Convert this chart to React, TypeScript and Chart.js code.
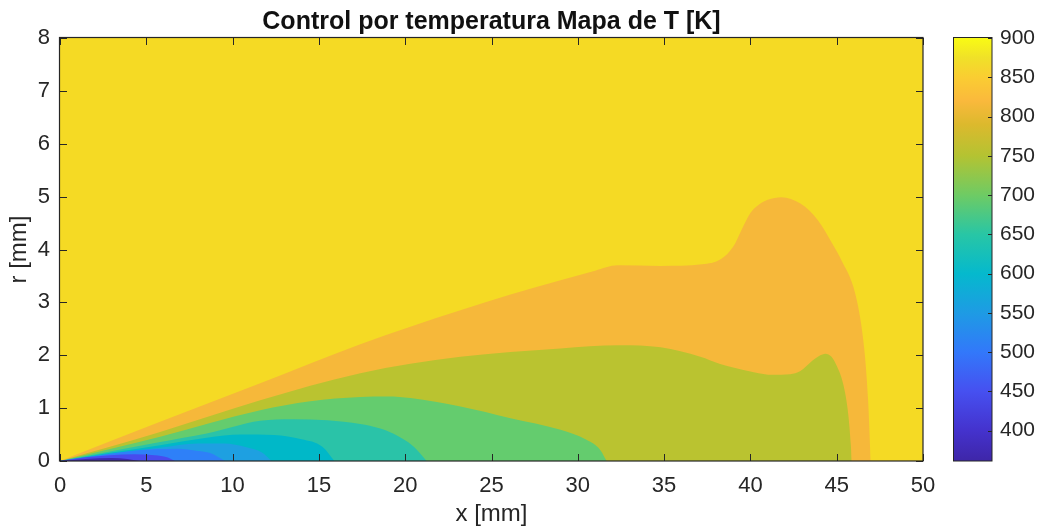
import React, { useEffect, useRef } from 'react';
import { Chart, registerables } from 'chart.js';

Chart.register(...registerables);

const FONT = "'Liberation Sans', Arial, Helvetica, sans-serif";
const AXIS_COLOR = '#262626';

const TITLE = 'Control por temperatura Mapa de T [K]';
const X_LABEL = 'x [mm]';
const Y_LABEL = 'r [mm]';

const xTicks = [0, 5, 10, 15, 20, 25, 30, 35, 40, 45, 50];
const rTicks = [0, 1, 2, 3, 4, 5, 6, 7, 8];
const cbTicks = [400, 450, 500, 550, 600, 650, 700, 750, 800, 850, 900];
const CB_MIN = 361.4;
const CB_MAX = 900;

// Contour boundaries (upper edge r(x) of each filled level, x in mm, r in mm)
const xTop = [0, 50];
const rTop = [8, 8];

const x800 = [0, 5.8, 11.6, 17.4, 20.3, 23.2, 26.1, 29.0, 31.0, 32.3, 34.8, 37.2, 38.3, 39.0, 39.5, 40.0, 40.5, 41.0, 41.8, 42.9, 43.9, 44.8, 45.3, 45.96, 46.35, 46.64, 46.82, 46.97];
const r800 = [0, 0.74, 1.47, 2.21, 2.54, 2.85, 3.15, 3.42, 3.60, 3.70, 3.69, 3.72, 3.82, 4.05, 4.38, 4.69, 4.85, 4.94, 4.99, 4.87, 4.56, 4.08, 3.78, 3.30, 2.73, 1.97, 1.15, 0];

const x750 = [0, 5.8, 11.6, 17.4, 23.2, 29.0, 32.4, 34.8, 37.1, 38.2, 39.0, 40.2, 41.3, 42.3, 42.9, 43.6, 44.0, 44.35, 44.7, 45.0, 45.38, 45.67, 45.82, 45.87];
const r750 = [0, 0.55, 1.15, 1.66, 1.97, 2.13, 2.19, 2.15, 1.97, 1.84, 1.77, 1.68, 1.63, 1.64, 1.70, 1.90, 1.99, 2.03, 1.97, 1.80, 1.45, 0.88, 0.30, 0];

const x700 = [0, 5.8, 11.6, 14.5, 17.4, 19.0, 20.3, 23.2, 26.1, 29.0, 30.5, 31.3, 31.67];
const r700 = [0, 0.46, 0.96, 1.13, 1.21, 1.22, 1.19, 1.03, 0.81, 0.59, 0.40, 0.21, 0];

const x650 = [0, 5.8, 8.5, 11.6, 13.5, 15.5, 17.4, 18.5, 19.3, 20.5, 21.24];
const r650 = [0, 0.36, 0.52, 0.76, 0.79, 0.77, 0.70, 0.62, 0.52, 0.27, 0];

const x600 = [0, 3.0, 5.8, 8.5, 10.5, 12.4, 14.0, 15.2, 15.9];
const r600 = [0, 0.16, 0.30, 0.44, 0.50, 0.49, 0.41, 0.27, 0];

const x550 = [0, 3.0, 5.8, 8.0, 9.5, 10.8, 11.7, 12.26];
const r550 = [0, 0.14, 0.25, 0.33, 0.33, 0.26, 0.16, 0];

const x500 = [0, 2.5, 3.9, 5.5, 6.8, 8.0, 8.7, 9.56];
const r500 = [0, 0.12, 0.18, 0.22, 0.23, 0.19, 0.15, 0];

const x450 = [0, 1.5, 2.9, 4.3, 5.5, 6.2, 6.66];
const r450 = [0, 0.07, 0.11, 0.13, 0.11, 0.07, 0];

const x400 = [0, 1.5, 3.0, 3.9, 4.6];
const r400 = [0, 0.04, 0.055, 0.04, 0];

// innermost first so it is drawn on top
const levelX = [x400, x450, x500, x550, x600, x650, x700, x750, x800, xTop];
const levelR = [r400, r450, r500, r550, r600, r650, r700, r750, r800, rTop];
const levelColors = ['#3F28AF', '#484BEE', '#2E80F8', '#1EA0E1', '#00B8C8', '#2AC3A8', '#64CC6E', '#BAC330', '#F6B83A', '#F5DA24'];

// colorbar (parula) stops
const cbStopValues = [361.4, 400, 450, 500, 550, 600, 650, 700, 750, 790, 820, 850, 875, 900];
const cbStopColors = ['#3E26A8', '#4432CD', '#4650F0', '#3278FA', '#1E9BE4', '#05B9CD', '#28C6A5', '#6ECB64', '#B4C332', '#DCB92D', '#FAB93C', '#FACD32', '#F0E128', '#F9FB14'];

const framePlugin = {
  id: 'frame',
  afterDatasetsDraw(chart: any) {
    const { ctx, chartArea: a, scales } = chart;
    const xs = scales.x;
    const ys = scales.y;
    const tl = 7;
    ctx.save();
    ctx.strokeStyle = AXIS_COLOR;
    ctx.lineWidth = 1;
    ctx.beginPath();
    xTicks.forEach((v) => {
      const px = Math.round(xs.getPixelForValue(v)) + 0.5;
      ctx.moveTo(px, a.bottom);
      ctx.lineTo(px, a.bottom - tl);
      ctx.moveTo(px, a.top);
      ctx.lineTo(px, a.top + tl);
    });
    rTicks.forEach((v) => {
      const py = Math.round(ys.getPixelForValue(v)) + 0.5;
      ctx.moveTo(a.left, py);
      ctx.lineTo(a.left + tl, py);
      ctx.moveTo(a.right, py);
      ctx.lineTo(a.right - tl, py);
    });
    ctx.stroke();
    ctx.lineWidth = 1.2;
    ctx.strokeRect(a.left - 0.5, a.top - 0.5, a.right - a.left + 0.5, a.bottom - a.top + 0.5);
    ctx.restore();
  },
};

const colorbarPlugin = {
  id: 'cbar',
  beforeDatasetsDraw(chart: any) {
    const { ctx, chartArea: a, scales } = chart;
    const ys = scales.y;
    const g = ctx.createLinearGradient(0, ys.getPixelForValue(CB_MIN), 0, ys.getPixelForValue(CB_MAX));
    cbStopValues.forEach((v, i) => {
      g.addColorStop((v - CB_MIN) / (CB_MAX - CB_MIN), cbStopColors[i]);
    });
    ctx.save();
    ctx.fillStyle = g;
    ctx.fillRect(a.left, a.top, a.right - a.left, a.bottom - a.top);
    ctx.restore();
  },
  afterDraw(chart: any) {
    const { ctx, chartArea: a, scales } = chart;
    const ys = scales.y;
    ctx.save();
    ctx.strokeStyle = AXIS_COLOR;
    ctx.lineWidth = 1;
    ctx.beginPath();
    cbTicks.forEach((v) => {
      const py = Math.round(ys.getPixelForValue(v)) + 0.5;
      ctx.moveTo(a.right, py);
      ctx.lineTo(a.right - 4, py);
    });
    ctx.stroke();
    ctx.strokeRect(a.left - 0.5, a.top - 0.5, a.right - a.left + 0.5, a.bottom - a.top + 0.5);
    ctx.restore();
  },
};

export default function App() {
  const mainRef = useRef<HTMLCanvasElement | null>(null);
  const cbRef = useRef<HTMLCanvasElement | null>(null);

  useEffect(() => {
    if (!mainRef.current || !cbRef.current) return;

    const datasets = levelX.map((xs, i) => ({
      data: xs.map((x, j) => ({ x, y: levelR[i][j] })),
      backgroundColor: levelColors[i],
      borderColor: levelColors[i],
      borderWidth: 0,
      pointRadius: 0,
      fill: 'origin',
      showLine: true,
      cubicInterpolationMode: 'monotone' as const,
    }));

    const main = new Chart(mainRef.current, {
      type: 'line',
      data: { datasets },
      options: {
        animation: false,
        responsive: false,
        maintainAspectRatio: false,
        events: [],
        layout: { padding: { left: 0, right: 114, top: 0, bottom: 0 } },
        plugins: {
          legend: { display: false },
          tooltip: { enabled: false },
          title: {
            display: true,
            text: TITLE,
            fullSize: false,
            color: '#111111',
            font: { family: FONT, size: 25, weight: 'bold' },
            padding: { top: 7, bottom: 1 },
          },
        },
        scales: {
          x: {
            type: 'linear',
            min: 0,
            max: 50,
            afterBuildTicks: (s: any) => {
              s.ticks = xTicks.map((v) => ({ value: v }));
            },
            afterFit: (s: any) => {
              s.height = 67;
            },
            grid: { display: false, drawTicks: false },
            border: { display: false },
            ticks: {
              font: { family: FONT, size: 22 },
              color: AXIS_COLOR,
              padding: 12,
              maxRotation: 0,
              autoSkip: false,
            },
            title: {
              display: true,
              text: X_LABEL,
              color: AXIS_COLOR,
              font: { family: FONT, size: 24 },
              padding: { top: 0, bottom: -1 },
            },
          },
          y: {
            type: 'linear',
            min: 0,
            max: 8,
            afterBuildTicks: (s: any) => {
              s.ticks = rTicks.map((v) => ({ value: v }));
            },
            afterFit: (s: any) => {
              s.width = 60;
            },
            grid: { display: false, drawTicks: false },
            border: { display: false },
            ticks: {
              font: { family: FONT, size: 22 },
              color: AXIS_COLOR,
              padding: 10,
              autoSkip: false,
            },
            title: {
              display: true,
              text: Y_LABEL,
              color: AXIS_COLOR,
              font: { family: FONT, size: 24 },
              padding: { top: 5, bottom: 0 },
            },
          },
        },
      },
      plugins: [framePlugin],
    } as any);

    const cb = new Chart(cbRef.current, {
      type: 'scatter',
      data: { datasets: [] },
      options: {
        animation: false,
        responsive: false,
        maintainAspectRatio: false,
        events: [],
        layout: { padding: { left: 14, right: 0, top: 38, bottom: 67 } },
        plugins: { legend: { display: false }, tooltip: { enabled: false }, title: { display: false } },
        scales: {
          x: { type: 'linear', display: false, min: 0, max: 1 },
          y: {
            type: 'linear',
            position: 'right',
            min: CB_MIN,
            max: CB_MAX,
            afterBuildTicks: (s: any) => {
              s.ticks = cbTicks.map((v) => ({ value: v }));
            },
            afterFit: (s: any) => {
              s.width = 45;
            },
            grid: { display: false, drawTicks: false },
            border: { display: false },
            ticks: {
              font: { family: FONT, size: 21 },
              color: AXIS_COLOR,
              padding: 8,
              autoSkip: false,
            },
          },
        },
      },
      plugins: [colorbarPlugin],
    } as any);

    return () => {
      main.destroy();
      cb.destroy();
    };
  }, []);

  return (
    <div style={{ position: 'absolute', left: 0, top: 0, width: 1037, height: 528, background: '#ffffff', overflow: 'hidden' }}>
      <canvas ref={mainRef} width={1037} height={528} style={{ position: 'absolute', left: 0, top: 0, width: 1037, height: 528 }} />
      <canvas ref={cbRef} width={97} height={528} style={{ position: 'absolute', left: 940, top: 0, width: 97, height: 528 }} />
    </div>
  );
}
